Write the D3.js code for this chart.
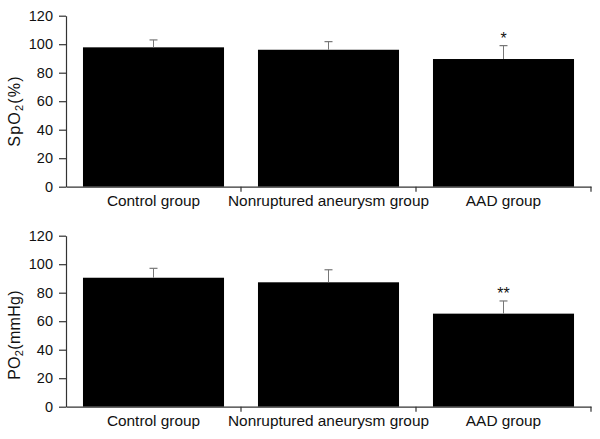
<!DOCTYPE html>
<html>
<head>
<meta charset="utf-8">
<script src="https://cdn.jsdelivr.net/npm/d3@7"></script>
<style>
  body { margin: 0; background: #fff; }
  svg { font-family: Arial, "Liberation Sans", sans-serif; }
</style>
</head>
<body>
<div id="container"></div>
<script>
/* DATA */
const groups = ["Control group", "Nonruptured aneurysm group", "AAD group"];
const spo2Mean = [97.8, 96.1, 89.6];
const spo2Err = [5.2, 5.7, 9.4];
const spo2Marks = ["", "", "*"];
const po2Mean = [90.5, 87.3, 65.3];
const po2Err = [6.6, 8.8, 8.9];
const po2Marks = ["", "", "**"];
const yTicks = [0, 20, 40, 60, 80, 100, 120];

/* CONSTANTS */
const width = 600, height = 439;
const axisLeft = 66, axisRight = 591;

const svg = d3.select("#container")
  .append("svg")
  .attr("width", width)
  .attr("height", height);

const xScale = d3.scaleBand()
  .domain(groups)
  .range([axisLeft, axisRight])
  .paddingInner(0.194)
  .paddingOuter(0.097);

const panels = [
  { top: 15.7, bottom: 186.7, mean: spo2Mean, err: spo2Err, marks: spo2Marks,
    title: ["SpO", "2", "(%)"], titleY: 111, spacing: 1.2 },
  { top: 235.7, bottom: 406.7, mean: po2Mean, err: po2Err, marks: po2Marks,
    title: ["PO", "2", "(mmHg)"], titleY: 335, spacing: 0.3 }
];

panels.forEach(p => {
  const yScale = d3.scaleLinear().domain([0, 120]).range([p.bottom, p.top]);
  const g = svg.append("g");

  // bars
  g.selectAll("rect.bar")
    .data(groups)
    .join("rect")
    .attr("class", "bar")
    .attr("x", d => xScale(d))
    .attr("width", xScale.bandwidth())
    .attr("y", (d, i) => yScale(p.mean[i]))
    .attr("height", (d, i) => yScale(0) - yScale(p.mean[i]))
    .attr("fill", "#000");

  // error bars (upper only)
  const cx = d => xScale(d) + xScale.bandwidth() / 2;
  g.selectAll("line.err")
    .data(groups)
    .join("line")
    .attr("class", "err")
    .attr("x1", cx).attr("x2", cx)
    .attr("y1", (d, i) => yScale(p.mean[i]))
    .attr("y2", (d, i) => yScale(p.mean[i] + p.err[i]))
    .attr("stroke", "#777").attr("stroke-width", 1);
  g.selectAll("line.cap")
    .data(groups)
    .join("line")
    .attr("class", "cap")
    .attr("x1", d => cx(d) - 4).attr("x2", d => cx(d) + 4)
    .attr("y1", (d, i) => yScale(p.mean[i] + p.err[i]))
    .attr("y2", (d, i) => yScale(p.mean[i] + p.err[i]))
    .attr("stroke", "#777").attr("stroke-width", 1.2);

  // significance marks
  g.selectAll("text.sig")
    .data(groups)
    .join("text")
    .attr("class", "sig")
    .attr("x", cx)
    .attr("y", (d, i) => yScale(p.mean[i] + p.err[i]) - 2)
    .attr("text-anchor", "middle")
    .attr("font-size", 16)
    .attr("fill", "#111")
    .text((d, i) => p.marks[i]);

  // y axis
  const yAxis = d3.axisLeft(yScale).tickValues(yTicks).tickSize(7).tickPadding(6).tickSizeOuter(0);
  const yg = g.append("g")
    .attr("transform", `translate(${axisLeft},0)`)
    .call(yAxis)
    .attr("font-size", 14.5)
    .attr("font-family", null);
  yg.selectAll(".tick text").attr("fill", "#111");
  yg.select(".domain").attr("stroke", "#333").attr("stroke-width", 1.2);
  yg.selectAll(".tick line").attr("stroke", "#333").attr("stroke-width", 1.2);

  // x axis with ticks at band boundaries
  const xg = g.append("g")
    .attr("transform", `translate(0,${p.bottom})`)
    .call(d3.axisBottom(xScale).tickSize(0).tickPadding(8).tickSizeOuter(0))
    .attr("font-size", 15.4)
    .attr("font-family", null);
  xg.selectAll(".tick text").attr("fill", "#111");
  xg.select(".domain").attr("stroke", "#333").attr("stroke-width", 1.2);
  const bounds = groups.map(d => xScale(d) + xScale.bandwidth() + xScale.step() * xScale.paddingInner() / 2);
  xg.selectAll("line.bound")
    .data(bounds)
    .join("line")
    .attr("class", "bound")
    .attr("x1", d => d).attr("x2", d => d)
    .attr("y1", 0).attr("y2", 5)
    .attr("stroke", "#333").attr("stroke-width", 1.2);

  // y title with subscript
  const t = g.append("text")
    .attr("transform", `translate(16,${p.titleY}) rotate(-90)`)
    .attr("text-anchor", "middle")
    .attr("dominant-baseline", "middle")
    .attr("font-size", 16)
    .attr("letter-spacing", p.spacing)
    .attr("fill", "#111");
  t.append("tspan").text(p.title[0]);
  t.append("tspan").attr("font-size", 11).attr("dy", 4).text(p.title[1]);
  t.append("tspan").attr("dy", -4).text(p.title[2]);
});
</script>
</body>
</html>
